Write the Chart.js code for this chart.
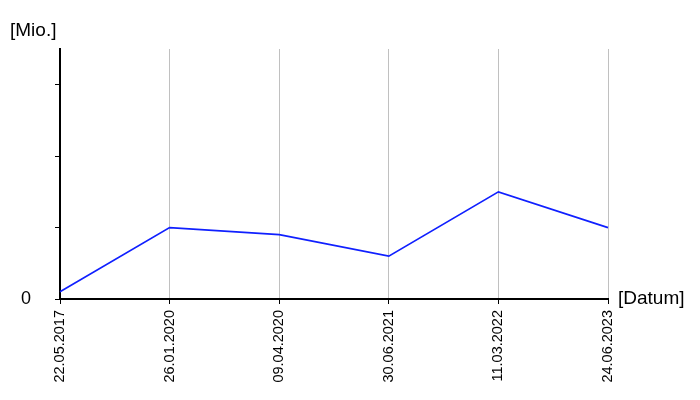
<!DOCTYPE html>
<html lang="de">
<head>
    <meta charset="UTF-8">
    <title>Mio. nach Datum</title>
    <script src="https://cdn.jsdelivr.net/npm/chart.js"></script>
</head>
<style>
  html, body { margin: 0; padding: 0; background: #fff; }
  #box { width: 700px; height: 400px; }
</style>
<body>
    <div id="box"><canvas id="myChart"></canvas></div>
    <script>
      // Daten
      const dates = ['22.05.2017', '26.01.2020', '09.04.2020', '30.06.2021', '11.03.2022', '24.06.2023'];
      const values = [0.1, 1.0, 0.9, 0.6, 1.5, 1.0];
      const yLabel = '[Mio.]';
      const xLabel = '[Datum]';

      // Achsenbeschriftung am Rand
      const axisNames = {
        id: 'axisNames',
        afterDraw(chart) {
          const c = chart.ctx;
          const a = chart.chartArea;
          c.save();
          c.font = '19px Arial, "Liberation Sans"';
          c.fillStyle = '#000';
          c.textBaseline = 'middle';
          c.textAlign = 'left';
          c.fillText(yLabel, 10, 31);
          c.fillText(xLabel, a.right + 10, a.bottom);
          c.restore();
        }
      };

      const ctx = document.getElementById('myChart').getContext('2d');
      const myChart = new Chart(ctx, {
          type: 'line',
          data: {
              labels: dates,
              datasets: [{
                  data: values,
                  borderColor: '#1020ff',
                  borderWidth: 1.7,
                  pointRadius: 0,
                  tension: 0,
                  fill: false
              }]
          },
          options: {
              responsive: true,
              maintainAspectRatio: false,
              animation: false,
              layout: { padding: { top: 49, right: 92, left: 0, bottom: 0 } },
              plugins: {
                  legend: { display: false },
                  tooltip: { enabled: false }
              },
              scales: {
                  x: {
                      offset: false,
                      afterFit(s) { s.height = 101; },
                      grid: {
                          color: '#c0c0c0',
                          tickColor: '#000',
                          tickLength: 5,
                          lineWidth: 1
                      },
                      border: { display: true, color: '#000', width: 2 },
                      ticks: {
                          color: '#000',
                          font: { family: 'Arial, "Liberation Sans"', size: 14.5 },
                          minRotation: 90,
                          maxRotation: 90,
                          autoSkip: false,
                          padding: 6
                      }
                  },
                  y: {
                      min: 0,
                      max: 3.5,
                      afterFit(s) { s.width = 60; },
                      grid: {
                          drawOnChartArea: false,
                          tickColor: '#000',
                          tickLength: 5
                      },
                      border: { display: true, color: '#000', width: 2 },
                      ticks: {
                          stepSize: 1,
                          includeBounds: false,
                          color: '#000',
                          padding: 24,
                          font: { family: 'Arial, "Liberation Sans"', size: 18 },
                          callback: v => v === 0 ? '0' : ''
                      }
                  }
              }
          },
          plugins: [axisNames]
      });
    </script>
</body>
</html>
